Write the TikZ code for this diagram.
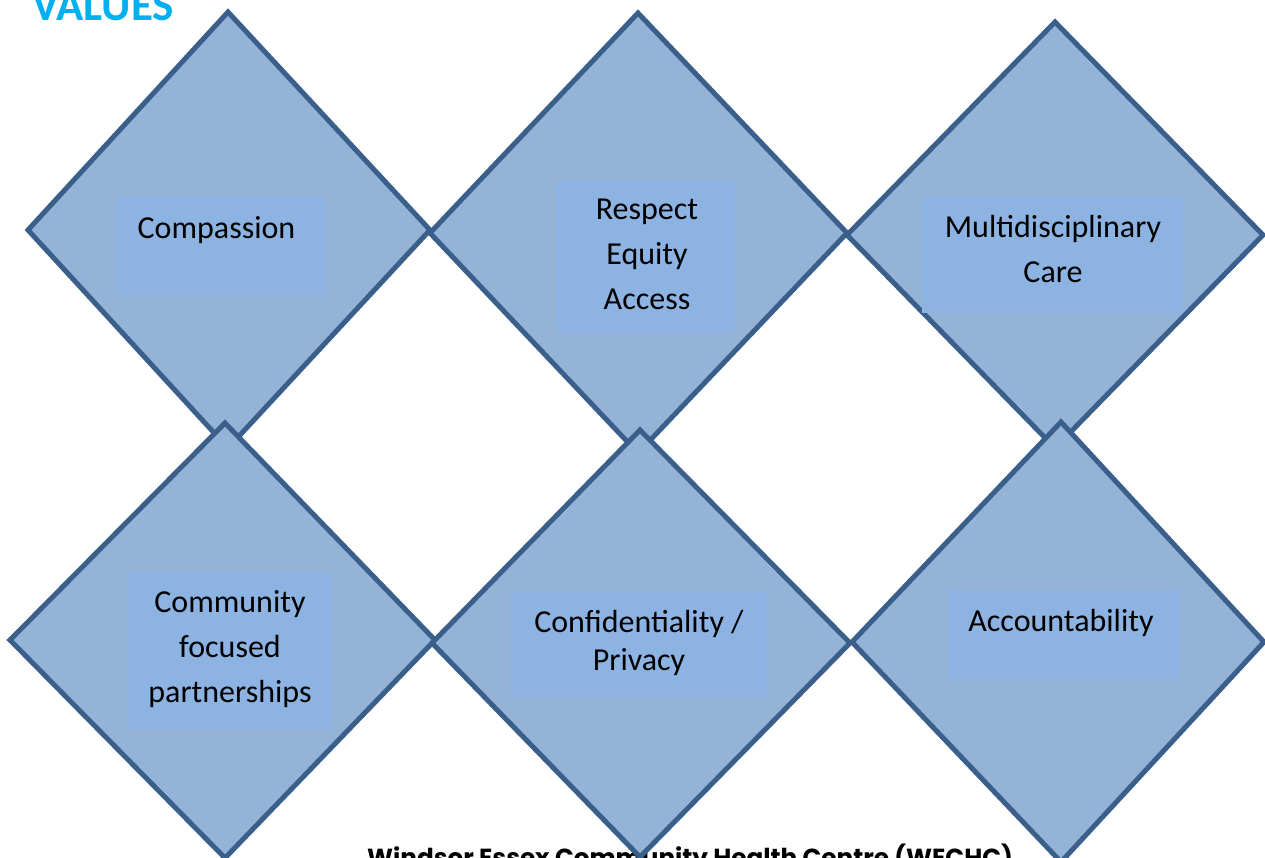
\documentclass[tikz,border=0pt]{standalone}
\usepackage{fontspec}
\setmainfont{Carlito}
\newfontfamily\gothic{Poppins}
\definecolor{dblue}{HTML}{3A5F8B}
\definecolor{dfill}{HTML}{95B3D7}
\definecolor{boxfill}{HTML}{8DB3E2}
\definecolor{titlecyan}{HTML}{00B0F0}
\tikzset{
  dia/.style={draw=dblue, line width=5pt, fill=dfill, line join=miter},
  inbox/.style={fill=boxfill, draw=none},
  lab/.style={font=\fontsize{32}{45}\selectfont, align=center, inner sep=0pt, text=black}
}
\begin{document}
\begin{tikzpicture}[x=1pt,y=-1pt]
\useasboundingbox (0,0) rectangle (1265,857);
\clip (0,0) rectangle (1265,857);

\node[anchor=base west, inner sep=0pt, font=\fontsize{45}{45}\selectfont\bfseries, text=titlecyan] (title) at (32,20) {VALUES};
\node[anchor=base, inner sep=0pt, font=\gothic\bfseries\fontsize{24.7}{25}\selectfont] (footer) at (690,866) {Windsor Essex Community Health Centre (WECHC)};

% top row
\draw[dia] (228,12) -- (430,230) -- (228,448) -- (28,230) -- cycle;
\draw[dia] (638,13) -- (847,233) -- (638,453) -- (430,233) -- cycle;
\draw[dia] (1055,22) -- (1263,235) -- (1055,448) -- (847,235) -- cycle;
% bottom row
\draw[dia] (225,423) -- (435,640) -- (225,858) -- (10,640) -- cycle;
\draw[dia] (640,430) -- (850,643) -- (640,857) -- (432,643) -- cycle;
\draw[dia] (1061,422) -- (1264,642) -- (1061,862) -- (852,642) -- cycle;

% inner boxes
\fill[inbox] (117,196) rectangle (325,296);
\fill[inbox] (556,180) rectangle (735,333);
\fill[inbox] (922,196) rectangle (1183,313);
\fill[inbox] (128,572) rectangle (332,730);
\fill[inbox] (510,592) rectangle (767,697);
\fill[inbox] (948,590) rectangle (1180,680);

\node[lab] (t1) at (216.5,230) {Compassion};
\node[lab] (t2) at (647,254) {Respect\\Equity\\Access};
\node[lab] (t3) at (1053,249) {Multidisciplinary\\Care};
\node[lab] (t4) at (230,649) {Community\\focused\\partnerships};
\node[lab, font=\fontsize{32}{38}\selectfont] (t5) at (639,643) {Confidentiality /\\Privacy};
\node[lab] (t6) at (1061,623) {Accountability};
\end{tikzpicture}
\end{document}
